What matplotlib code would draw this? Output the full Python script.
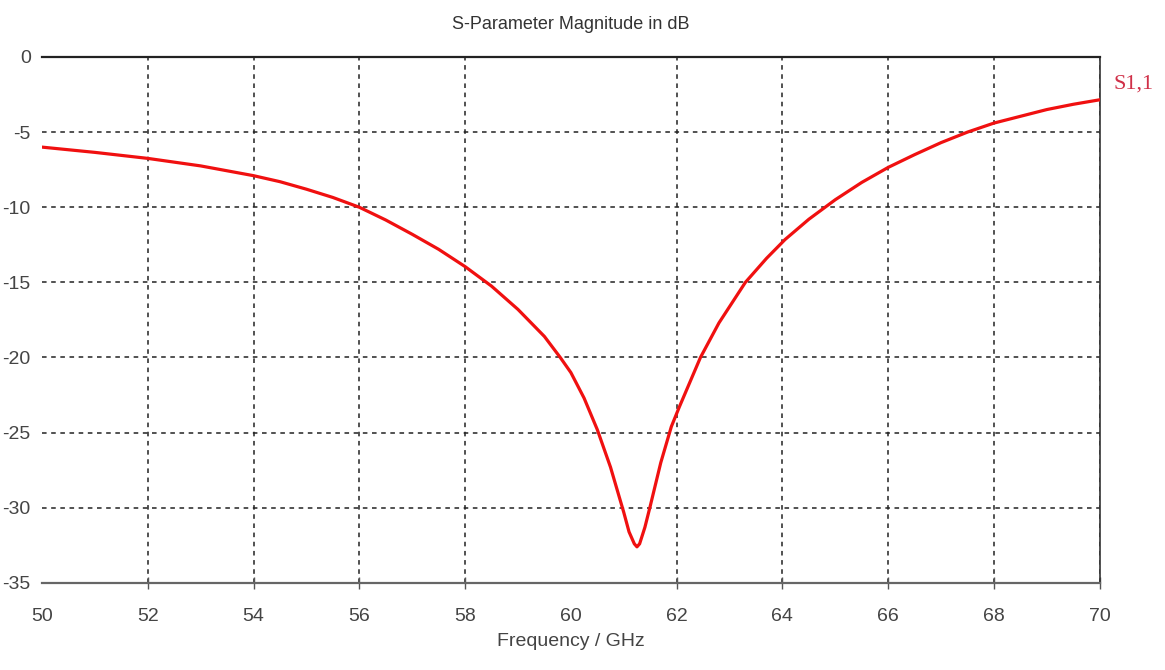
import matplotlib
matplotlib.use("Agg")
import matplotlib.pyplot as plt

# datos
frecuencia = [50, 51, 52, 53, 54, 54.5, 55, 55.5, 56, 56.5, 57, 57.5, 58, 58.5, 59,
              59.5, 59.8, 60.0, 60.25, 60.5, 60.75, 61.0, 61.1, 61.2, 61.25, 61.3,
              61.4, 61.5, 61.7, 61.9, 62.05, 62.45, 62.8, 63.3, 63.7, 64.05, 64.5,
              65, 65.5, 66, 66.5, 67, 67.5, 68, 68.5, 69, 69.5, 70]
s11_db = [-6.0, -6.35, -6.75, -7.25, -7.9, -8.3, -8.8, -9.35, -10.0, -10.85, -11.8,
          -12.8, -13.95, -15.25, -16.8, -18.6, -20.0, -21.0, -22.7, -24.8, -27.3,
          -30.3, -31.6, -32.4, -32.6, -32.4, -31.3, -29.9, -27.0, -24.6, -23.3,
          -20.0, -17.7, -15.0, -13.4, -12.15, -10.8, -9.5, -8.35, -7.35, -6.5,
          -5.7, -5.0, -4.4, -3.95, -3.5, -3.15, -2.85]
xticks = [50, 52, 54, 56, 58, 60, 62, 64, 66, 68, 70]
yticks = [0, -5, -10, -15, -20, -25, -30, -35]

plt.rcParams['font.family'] = ['Liberation Sans', 'DejaVu Sans']
plt.rcParams['axes.unicode_minus'] = False

figura = plt.figure(figsize=(11.65, 6.70), dpi=100)
ax = figura.add_axes([0.036, 0.130, 0.908, 0.785])

ax.plot(frecuencia, s11_db, color='#f01010', linewidth=2.3, zorder=3,
        solid_joinstyle='round')

ax.set_xlim(50, 70)
ax.set_ylim(-35, 0)
ax.set_xticks(xticks)
ax.set_yticks(yticks)
ax.tick_params(axis='x', direction='inout', length=8, width=1, color='#555555',
               labelsize=14, labelcolor='#444444', pad=14)
ax.tick_params(axis='y', length=0, labelsize=14, labelcolor='#444444', pad=8)

ax.grid(True, color='#222222', linestyle=(0, (3, 3)), linewidth=1.1)
# en el original no hay lineas en 50 ni en 60
for i in [0, 5]:
    ax.get_xgridlines()[i].set_visible(False)
    ax.xaxis.get_major_ticks()[i].tick1line.set_visible(False)
    ax.xaxis.get_major_ticks()[i].tick2line.set_visible(False)

ax.spines['left'].set_visible(False)
ax.spines['top'].set_color('#222222')
ax.spines['top'].set_linewidth(1.6)
ax.spines['right'].set_color('#333333')
ax.spines['right'].set_linewidth(1.2)
ax.spines['bottom'].set_color('#666666')
ax.spines['bottom'].set_linewidth(1.6)

ax.set_title("S-Parameter Magnitude in dB", fontsize=13, color='#333333', pad=20)
ax.set_xlabel("Frequency / GHz", fontsize=14, color='#444444', labelpad=6)

figura.text(0.956, 0.874, "S1,1", color='#d03048', fontsize=16,
            family=['Liberation Serif', 'DejaVu Serif'], va='center', ha='left')

figura.savefig("out.png", dpi=100)
